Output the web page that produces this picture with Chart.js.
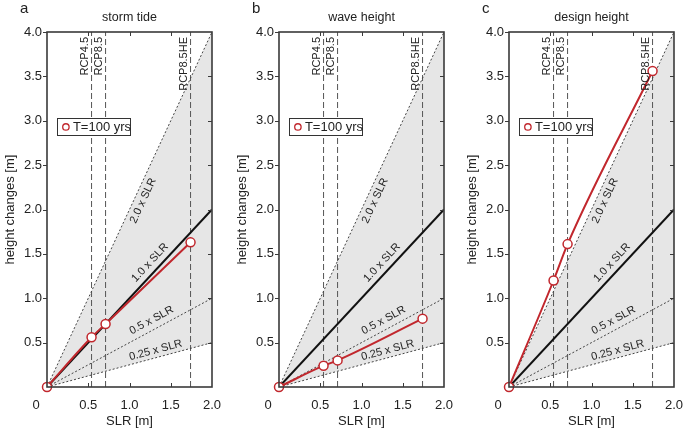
<!DOCTYPE html>
<html>
<head>
<meta charset="utf-8">
<script src="https://cdn.jsdelivr.net/npm/chart.js@4.4.1/dist/chart.umd.min.js"></script>
<style>
  body { margin: 0; background: #fff; overflow: hidden; }
  #wrap { position: relative; width: 685px; height: 430px; }
  canvas { position: absolute; top: 0; }
</style>
</head>
<body>
<div id="wrap">
  <canvas id="c0" width="228" height="430" style="left:0px"></canvas>
  <canvas id="c1" width="228" height="430" style="left:232px"></canvas>
  <canvas id="c2" width="223" height="430" style="left:462px"></canvas>
</div>
<script>
// --- data ---
const panelLetters = ['a', 'b', 'c'];
const panelTitles = ['storm tide', 'wave height', 'design height'];

const slrPoints = [0, 0.54, 0.71, 1.74];          // SLR of the T=100 yrs points
const stormTide = [0, 0.56, 0.71, 1.63];
const waveHeight = [0, 0.24, 0.30, 0.77];
const designHeight = [0, 1.20, 1.61, 3.56];
const panelSeries = [stormTide, waveHeight, designHeight];

const scenarioNames = ['RCP4.5', 'RCP8.5', 'RCP8.5HE'];
const scenarioSLR = [0.54, 0.71, 1.74];

const slrFactors = [2.0, 1.0, 0.5, 0.25];
const factorLabels = ['2.0 x SLR', '1.0 x SLR', '0.5 x SLR', '0.25 x SLR'];
const slrRange = [0, 2];

const xTicks = [0, 0.5, 1.0, 1.5, 2.0];
const yTicks = [0.5, 1.0, 1.5, 2.0, 2.5, 3.0, 3.5, 4.0];

const RED = '#c1272d';
const FONT = "'Liberation Sans', Arial, sans-serif";
Chart.defaults.font.family = FONT;
Chart.defaults.color = '#222';

// label placement along the factor lines: foot x on the line, perpendicular offset in px
const factorLabelAt = [1.07, 1.33, 1.32, 1.34];
const factorLabelOff = [-8.6, 9.3, 9.2, 7.2];

const panelDecor = {
  id: 'panelDecor',
  afterDatasetsDraw(chart, args, opts) {
    const ctx = chart.ctx;
    const xs = chart.scales.x, ys = chart.scales.y;
    const a = chart.chartArea;
    ctx.save();

    // frame + ticks
    ctx.strokeStyle = '#3a3a3a';
    ctx.lineWidth = 1.6;
    ctx.strokeRect(a.left, a.top, a.right - a.left, a.bottom - a.top);
    ctx.lineWidth = 1;
    ctx.beginPath();
    xTicks.forEach(v => {
      if (v <= 0 || v >= 2) return;
      const px = Math.round(xs.getPixelForValue(v)) + 0.5;
      ctx.moveTo(px, a.top); ctx.lineTo(px, a.top + 4);
      ctx.moveTo(px, a.bottom); ctx.lineTo(px, a.bottom - 4);
    });
    yTicks.forEach(v => {
      const py = Math.round(ys.getPixelForValue(v)) + 0.5;
      ctx.moveTo(a.left - 4, py); ctx.lineTo(a.left, py);
      if (v < 4) { ctx.moveTo(a.right, py); ctx.lineTo(a.right - 4, py); }
    });
    ctx.stroke();

    // labels along the SLR factor lines
    ctx.fillStyle = '#222';
    ctx.font = '11px ' + FONT;
    ctx.textAlign = 'center';
    ctx.textBaseline = 'middle';
    slrFactors.forEach((f, i) => {
      const x0 = xs.getPixelForValue(slrRange[0]), y0 = ys.getPixelForValue(f * slrRange[0]);
      const x1 = xs.getPixelForValue(slrRange[1]), y1 = ys.getPixelForValue(f * slrRange[1]);
      const ang = Math.atan2(y1 - y0, x1 - x0);
      const fx = factorLabelAt[i];
      ctx.save();
      ctx.translate(xs.getPixelForValue(fx), ys.getPixelForValue(f * fx));
      ctx.rotate(ang);
      ctx.fillText(factorLabels[i], 0, -factorLabelOff[i]);
      ctx.restore();
    });

    // scenario names at the top of the dashed lines
    ctx.font = '11px ' + FONT;
    ctx.textAlign = 'right';
    scenarioSLR.forEach((s, i) => {
      ctx.save();
      ctx.translate(xs.getPixelForValue(s) - 7, a.top + 5);
      ctx.rotate(-Math.PI / 2);
      ctx.fillText(scenarioNames[i], 0, 0);
      ctx.restore();
    });

    // legend box
    const lx = xs.getPixelForValue(0.12), ly = ys.getPixelForValue(2.93);
    const bw = 73, bh = 17;
    ctx.fillStyle = '#fff';
    ctx.fillRect(lx, ly - bh / 2, bw, bh);
    ctx.strokeStyle = '#333';
    ctx.lineWidth = 1;
    ctx.strokeRect(Math.round(lx) + 0.5, Math.round(ly - bh / 2) + 0.5, bw, bh);
    ctx.beginPath();
    ctx.arc(lx + 9, ly, 3.2, 0, Math.PI * 2);
    ctx.strokeStyle = RED;
    ctx.lineWidth = 1.3;
    ctx.stroke();
    ctx.fillStyle = '#222';
    ctx.font = '13px ' + FONT;
    ctx.textAlign = 'left';
    ctx.fillText('T=100 yrs', lx + 16, ly + 0.5);

    // panel letter and title
    ctx.font = '15px ' + FONT;
    ctx.textAlign = 'left';
    ctx.fillText(opts.letter, 20, 9);
    ctx.font = '12.5px ' + FONT;
    ctx.textAlign = 'center';
    ctx.fillText(opts.title, (a.left + a.right) / 2, 18);
    ctx.restore();
  }
};

function makePanel(idx) {
  const canvas = document.getElementById('c' + idx);
  const vals = panelSeries[idx];
  const datasets = [];

  datasets.push({
    label: 'T=100 yrs',
    data: slrPoints.map((x, i) => ({ x: x, y: vals[i] })),
    borderColor: RED,
    borderWidth: 2,
    pointRadius: 4.5,
    pointBackgroundColor: '#fff',
    pointBorderColor: RED,
    pointBorderWidth: 1.5,
    cubicInterpolationMode: 'monotone',
    clip: false
  });

  // SLR factor lines: 1.0 solid, others dotted; shaded between 2.0 and 0.25
  const order = [1.0, 2.0, 0.5, 0.25];
  order.forEach(f => {
    const ds = {
      label: f + ' x SLR',
      data: slrRange.map(x => ({ x: x, y: f * x })),
      borderColor: f === 1.0 ? '#111' : '#444',
      borderWidth: f === 1.0 ? 2 : 1,
      borderDash: f === 1.0 ? [] : [2, 2],
      pointRadius: 0,
      fill: false
    };
    if (f === 2.0) { ds.fill = 4; ds.backgroundColor = '#e6e6e6'; }
    datasets.push(ds);
  });

  scenarioSLR.forEach((s, i) => {
    datasets.push({
      label: scenarioNames[i],
      data: [{ x: s, y: 0 }, { x: s, y: 4 }],
      borderColor: '#555',
      borderWidth: 1,
      borderDash: [6, 3],
      pointRadius: 0,
      fill: false
    });
  });

  new Chart(canvas, {
    type: 'line',
    data: { datasets: datasets },
    options: {
      responsive: false,
      animation: false,
      devicePixelRatio: 1,
      layout: { padding: { top: 32, right: canvas.width - 212, left: 0, bottom: 0 } },
      plugins: {
        legend: { display: false },
        tooltip: { enabled: false },
        filler: { drawTime: 'beforeDatasetsDraw' },
        panelDecor: { letter: panelLetters[idx], title: panelTitles[idx] }
      },
      scales: {
        x: {
          type: 'linear', min: 0, max: 2,
          afterBuildTicks: s => { s.ticks = xTicks.map(v => ({ value: v })); },
          afterFit: s => { s.height = 43; s.paddingLeft = 0; s.paddingRight = 0; },
          grid: { display: false, drawTicks: false },
          border: { display: false },
          ticks: {
            font: { size: 13 }, padding: 11, maxRotation: 0, autoSkip: false,
            callback: v => v === 0 ? '0      ' : v.toFixed(1)
          },
          title: { display: true, text: 'SLR [m]', font: { size: 13 }, padding: { top: 0, bottom: 1 } }
        },
        y: {
          type: 'linear', min: 0, max: 4,
          afterBuildTicks: s => { s.ticks = yTicks.map(v => ({ value: v })); },
          afterFit: s => { s.width = 47; s.paddingTop = 0; s.paddingBottom = 0; },
          grid: { display: false, drawTicks: false },
          border: { display: false },
          ticks: { font: { size: 13 }, padding: 5, callback: v => v.toFixed(1) },
          title: { display: true, text: 'height changes [m]', font: { size: 13 }, padding: { top: 3, bottom: 0 } }
        }
      }
    },
    plugins: [panelDecor]
  });
}

[0, 1, 2].forEach(makePanel);
</script>
</body>
</html>
